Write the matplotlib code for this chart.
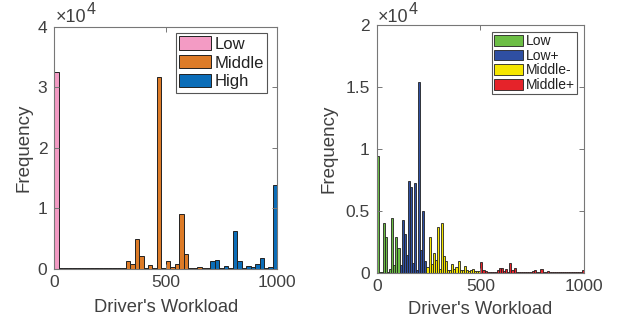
import numpy as np
import matplotlib
matplotlib.use('Agg')
import matplotlib.pyplot as plt

plt.rcParams['font.family'] = ['Liberation Sans', 'DejaVu Sans']

TXT = '#404040'
SPINE = '#777777'

# ---- left panel: 3 workload levels, bins of width 20 ----
L_BIN = 20
low3_bins = list(range(0, 16))
low3_vals = [32500, 80, 70, 80, 70, 80, 70, 80, 70, 80, 70, 80, 70, 80, 70, 80]
mid3_bins = list(range(16, 35))
mid3_vals = [1300, 700, 4900, 2000, 80, 600, 80, 31700, 80, 1300, 330, 700,
             9100, 2400, 80, 80, 200, 60, 60]
high3_bins = list(range(35, 50))
high3_vals = [1270, 1430, 60, 500, 60, 6200, 1270, 60, 440, 330, 770, 1760,
              60, 200, 13770]

# ---- right panel: 4 workload levels, bins of width 10 ----
R_BIN = 10
low4_bins = list(range(0, 11))
low4_vals = [9400, 40, 60, 4040, 2880, 60, 300, 4370, 600, 2880, 2000]
lowp4_bins = list(range(11, 24))
lowp4_vals = [600, 4230, 3150, 1400, 7380, 6900, 730, 7200, 190, 15400, 1830,
              4960, 940]
midm4_bins = list(range(24, 50))
midm4_vals = [460, 2880, 650, 1540, 1000, 3670, 270, 4040, 1350, 940, 240, 240,
              670, 320, 460, 920, 240, 240, 510, 190, 130, 190, 320, 130, 100, 100]
midp4_bins = list(range(50, 100))
midp4_vals = [860, 240, 130, 80, 80, 60, 60, 60, 190, 400, 380, 130, 270, 60,
              750, 190, 380, 40, 30, 30, 30, 30, 30, 30, 80, 100, 190, 80, 30,
              320, 30, 30, 100, 20, 20, 20, 20, 20, 20, 20, 20, 20, 20, 20, 20,
              20, 20, 20, 20, 215]


def style_axes(ax, ymax, yticks, ylabels):
    ax.set_xlim(0, 1000)
    ax.set_ylim(0, ymax)
    ax.set_xticks([0, 500, 1000])
    ax.set_yticks(yticks)
    ax.set_yticklabels(ylabels)
    ax.tick_params(direction='in', length=3.5, width=0.7, colors=SPINE,
                   labelcolor=TXT, labelsize=12.5, top=True, right=True, pad=5)
    for s in ax.spines.values():
        s.set_color(SPINE)
        s.set_linewidth(0.8)
    ax.set_xlabel("Driver's Workload", fontsize=13.2, color=TXT)
    ax.set_ylabel('Frequency', fontsize=13.5, color=TXT)


def exponent(ax, y):
    # MATLAB style x10^4 multiplier above the y axis
    t = ax.text(0.005, y, '×10', transform=ax.transAxes, fontsize=13,
                color=TXT, ha='left', va='bottom')
    ax.annotate('4', xy=(1, 0.95), xycoords=t, xytext=(0.5, 0),
                textcoords='offset points', fontsize=11.5, color=TXT,
                ha='left', va='center')


fig = plt.figure(figsize=(6.23, 3.22), dpi=100)

# left
ax1 = fig.add_axes([0.0872, 0.166, 0.358, 0.75])
for bins, vals, col, lab in [(low3_bins, low3_vals, '#F39BC4', 'Low'),
                             (mid3_bins, mid3_vals, '#DD7B27', 'Middle'),
                             (high3_bins, high3_vals, '#0B6DB8', 'High')]:
    x = np.array(bins) * L_BIN
    ax1.bar(x, vals, width=L_BIN, align='edge', color=col, edgecolor='#222222',
            linewidth=0.7, label=lab)
style_axes(ax1, 40000, [0, 10000, 20000, 30000, 40000], ['0', '1', '2', '3', '4'])
ax1.xaxis.set_label_coords(0.5, -0.125)
ax1.yaxis.set_label_coords(-0.10, 0.5)
exponent(ax1, 1.005)
leg1 = ax1.legend(loc='upper right', bbox_to_anchor=(0.954, 0.975),
                  fontsize=12, frameon=True, fancybox=False,
                  edgecolor='#555555', framealpha=1, borderaxespad=0,
                  handlelength=1.9, handleheight=0.85, handletextpad=0.2,
                  labelspacing=0.2, borderpad=0.2)
leg1.get_frame().set_linewidth(0.8)
for t in leg1.get_texts():
    t.set_color('#222222')

# right
ax2 = fig.add_axes([0.6047, 0.1537, 0.3327, 0.7686])
for bins, vals, col, lab in [(low4_bins, low4_vals, '#6CBE45', 'Low'),
                             (lowp4_bins, lowp4_vals, '#2F4FA2', 'Low+'),
                             (midm4_bins, midm4_vals, '#F5E600', 'Middle-'),
                             (midp4_bins, midp4_vals, '#E5232A', 'Middle+')]:
    x = np.array(bins) * R_BIN
    ax2.bar(x, vals, width=R_BIN, align='edge', color=col, edgecolor='#222222',
            linewidth=0.6, label=lab)
style_axes(ax2, 20000, [0, 5000, 10000, 15000, 20000], ['0', '0.5', '1', '1.5', '2'])
ax2.xaxis.set_label_coords(0.5, -0.115)
ax2.yaxis.set_label_coords(-0.187, 0.5)
exponent(ax2, 0.998)
leg2 = ax2.legend(loc='upper right', bbox_to_anchor=(0.966, 0.972),
                  fontsize=10, frameon=True, fancybox=False,
                  edgecolor='#555555', framealpha=1, borderaxespad=0,
                  handlelength=2.1, handleheight=0.8, handletextpad=0.2,
                  labelspacing=0.05, borderpad=0.15)
leg2.get_frame().set_linewidth(0.8)
for t in leg2.get_texts():
    t.set_color('#222222')

fig.savefig('out.png', dpi=100)
